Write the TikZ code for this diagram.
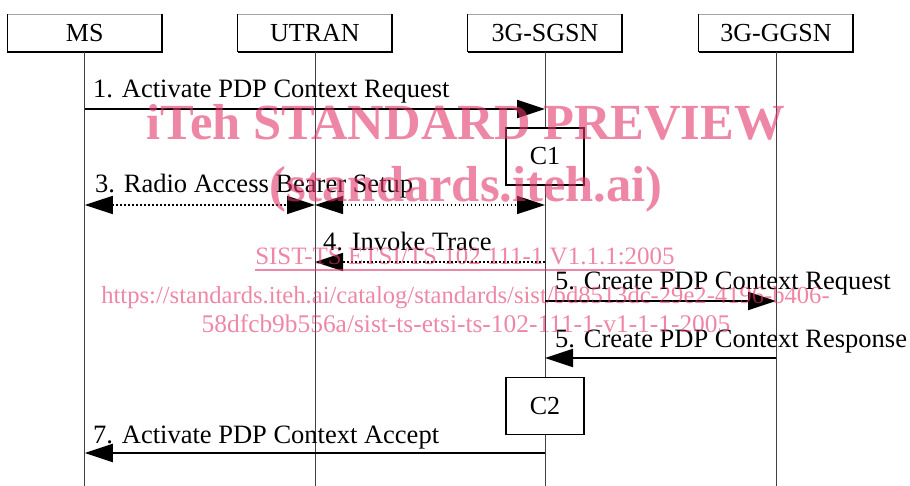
\documentclass[tikz,border=0pt]{standalone}
\usepackage{fontspec}
\setmainfont{Liberation Serif}
\usetikzlibrary{arrows.meta,calc}

\definecolor{wmpink}{RGB}{227,55,105}

\begin{document}
\begin{tikzpicture}[x=1pt,y=-1pt,
  lbl/.style={font=\fontsize{26.5}{30}\selectfont, inner sep=0pt, anchor=base west},
  entity/.style={minimum width=154.5pt, minimum height=37.5pt, inner sep=0pt,
                 font=\fontsize{26}{30}\selectfont},
  lifeline/.style={draw=black!75, line width=0.9pt},
  cbox/.style={draw, fill=white, line width=1.8pt, minimum width=78pt,
               minimum height=57pt, inner sep=0pt, font=\fontsize{26}{30}\selectfont},
  msg/.style={line width=2pt, -{Triangle[length=28pt,width=18pt]}},
  dmsg/.style={line width=1.6pt, dash pattern=on 1.6pt off 2.4pt,
               {Triangle[length=28pt,width=18pt]}-{Triangle[length=28pt,width=18pt]}},
  omsg/.style={line width=1.6pt, dash pattern=on 1.6pt off 2.4pt,
               -{Triangle[length=28pt,width=18pt]}},
  wmbig/.style={font=\fontsize{50.6}{56}\selectfont\bfseries, text=wmpink,
                text opacity=0.6, inner sep=0pt, anchor=base},
  wmsmall/.style={font=\fontsize{25}{29}\selectfont, text=wmpink,
                  text opacity=0.6, inner sep=0pt, anchor=base}
]
\useasboundingbox (0,0) rectangle (910,486);

% entity headers
\node[entity] (ms)    at (84.75,33) {MS};
\node[entity] (utran) at (315,33)   {UTRAN};
\node[entity] (sgsn)  at (545,33)   {3G-SGSN};
\node[entity] (ggsn)  at (776,33)   {3G-GGSN};

% lifeline ends
\coordinate (msEnd)    at (84.75,486);
\coordinate (utranEnd) at (315,486);
\coordinate (sgsnEnd)  at (545,486);
\coordinate (ggsnEnd)  at (776,486);

\foreach \n in {ms,utran,sgsn,ggsn}{
  \draw[black!35, line width=0.8pt] (\n.north west) -- (\n.north east);
  \draw[line width=1pt] (\n.north west) -- (\n.south west);
  \draw[line width=2pt] (\n.north east) -- (\n.south east) -- (\n.south west);
  \draw[lifeline] (\n.south) -- (\n End);
}

% processing boxes on the SGSN lifeline
\node[cbox] (c1) at (545,156.5) {C1};
\node[cbox] (c2) at (545,406)   {C2};

% message anchor points
\coordinate (m1a) at (84.75,109); \coordinate (m1b) at (545,109);
\coordinate (m3a) at (84.75,205); \coordinate (m3b) at (315,205); \coordinate (m3c) at (545,205);
\coordinate (m4a) at (545,262);   \coordinate (m4b) at (315,262);
\coordinate (m5a) at (545,301);   \coordinate (m5b) at (776,301);
\coordinate (m6a) at (776,358);   \coordinate (m6b) at (545,358);
\coordinate (m7a) at (545,453);   \coordinate (m7b) at (84.75,453);

% messages
\draw[msg] (m1a) -- (m1b);
\node[lbl] (l1) at (93,98) {1. Activate PDP Context Request};

\draw[dmsg] (m3a) -- (m3b);
\draw[dmsg] (m3b) -- (m3c);
\node[lbl] (l3) at (95,193) {3. Radio Access Bearer Setup};

\draw[omsg] (m4a) -- (m4b);
\node[lbl] (l4) at (323,251) {4. Invoke Trace};

\draw[msg] (m5a) -- (m5b);
\node[lbl] (l5) at (555,290) {5. Create PDP Context Request};

\draw[msg] (m6a) -- (m6b);
\node[lbl] (l6) at (555,347) {5. Create PDP Context Response};

\draw[msg] (m7a) -- (m7b);
\node[lbl] (l7) at (93,443) {7. Activate PDP Context Accept};

% overlay stamp
\node[wmbig] (wm1) at (466,140) {iTeh STANDARD PREVIEW};
\node[wmbig] (wm2) at (466,202) {(standards.iteh.ai)};
\node[wmsmall] (wm3) at (465,265) {SIST-TS ETSI/TS 102 111-1 V1.1.1:2005};
\draw[wmpink, draw opacity=0.6, line width=1.2pt]
  ($(wm3.base west)+(0,5)$) -- ($(wm3.base east)+(0,5)$);
\node[wmsmall, font=\fontsize{24.6}{29}\selectfont] (wm4) at (465.5,303) {https://standards.iteh.ai/catalog/standards/sist/bd8513dc-29e2-4196-b406-};
\node[wmsmall, font=\fontsize{25.4}{29}\selectfont] (wm5) at (466,332) {58dfcb9b556a/sist-ts-etsi-ts-102-111-1-v1-1-1-2005};
\end{tikzpicture}
\end{document}
